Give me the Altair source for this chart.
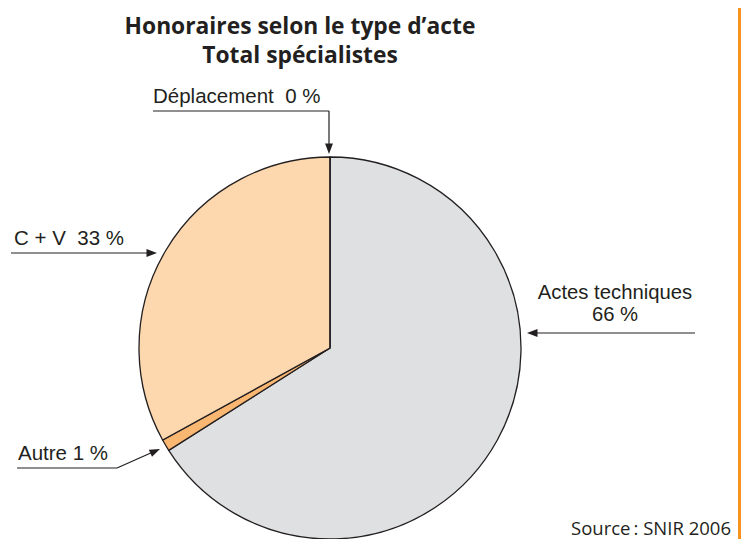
import altair as alt
import pandas as pd

# ---- data ----
categories = ["Actes techniques", "Autre", "C + V", "Déplacement"]
shares = [66, 1, 33, 0]
slice_colors = ["#dfe0e2", "#f9b772", "#fdd8ae", "#fdd8ae"]

title_lines = ["Honoraires selon le type d’acte", "Total spécialistes"]
left_labels = ["Déplacement\u00a0\u00a00 %", "C + V\u00a0\u00a033 %", "Autre 1 %"]
right_labels = ["Actes techniques", "66 %"]
source_text = "Source\u2009: SNIR 2006"

# ---- layout (pixels) ----
W, H = 733, 531
CX, CY, R = 322, 340, 191
INK = "#231f20"

pie_df = pd.DataFrame({"category": categories, "share": shares,
                       "idx": list(range(len(categories)))})

pie = alt.Chart(pie_df).mark_arc(outerRadius=R, stroke=INK, strokeWidth=1.3).encode(
    theta=alt.Theta("share:Q", stack=True),
    color=alt.Color("category:N", scale=alt.Scale(domain=categories, range=slice_colors), legend=None),
    order=alt.Order("idx:Q"),
    x=alt.value(CX),
    y=alt.value(CY),
)

# title
title_df = pd.DataFrame({"t": title_lines, "x": [292, 292], "y": [26, 55]})
title = alt.Chart(title_df).mark_text(font="Open Sans", fontWeight="bold", fontSize=22.8,
                                      align="center", baseline="alphabetic", color=INK).encode(
    text="t:N", x=alt.X("x:Q", scale=None), y=alt.Y("y:Q", scale=None))

# annotation labels
ll_df = pd.DataFrame({"t": left_labels, "x": [145, 6, 10], "y": [95, 237, 452]})
ll = alt.Chart(ll_df).mark_text(font="Liberation Sans", fontSize=20.5, align="left",
                                baseline="alphabetic", color=INK).encode(
    text="t:N", x=alt.X("x:Q", scale=None), y=alt.Y("y:Q", scale=None))

rl_df = pd.DataFrame({"t": right_labels, "x": [607, 607], "y": [291, 313]})
rl = alt.Chart(rl_df).mark_text(font="Liberation Sans", fontSize=20.3, align="center",
                                baseline="alphabetic", color=INK).encode(
    text="t:N", x=alt.X("x:Q", scale=None), y=alt.Y("y:Q", scale=None))

src_df = pd.DataFrame({"t": [source_text], "x": [723], "y": [527]})
src = alt.Chart(src_df).mark_text(font="Open Sans", fontSize=18.5, align="right",
                                  baseline="alphabetic", color=INK).encode(
    text="t:N", x=alt.X("x:Q", scale=None), y=alt.Y("y:Q", scale=None))

# leader lines
seg_df = pd.DataFrame({
    "x": [145, 321, 3, 9, 109, 687],
    "y": [103, 103, 245, 460, 460, 325],
    "x2": [321, 321, 142, 109, 145, 527],
    "y2": [103, 140, 245, 460, 444, 325],
})
segs = alt.Chart(seg_df).mark_rule(color=INK, strokeWidth=1.2).encode(
    x=alt.X("x:Q", scale=None), y=alt.Y("y:Q", scale=None),
    x2="x2:Q", y2="y2:Q")

# arrow heads (tip at origin, pointing right)
head_df = pd.DataFrame({"x": [321, 149, 152, 519], "y": [146, 245, 441, 325],
                        "a": [90, 0, 336, 180]})
heads = alt.Chart(head_df).mark_point(
    shape="M0,0L-2,-0.75L-2,0.75Z", filled=True, size=110, color=INK, opacity=1, strokeWidth=0
).encode(x=alt.X("x:Q", scale=None), y=alt.Y("y:Q", scale=None), angle=alt.Angle("a:Q", scale=None))

# orange frame edge
edge = alt.Chart(pd.DataFrame({"x": [731.5], "y": [0], "y2": [H]})).mark_rule(
    color="#f7941d", strokeWidth=3).encode(
    x=alt.X("x:Q", scale=None), y=alt.Y("y:Q", scale=None), y2="y2:Q")

chart = alt.layer(pie, segs, heads, title, ll, rl, src, edge).properties(
    width=W, height=H, padding=0,
    autosize=alt.AutoSizeParams(type="none"),
).configure_view(stroke=None)

chart.save("out.html", embed_options={"renderer": "svg", "actions": False})
